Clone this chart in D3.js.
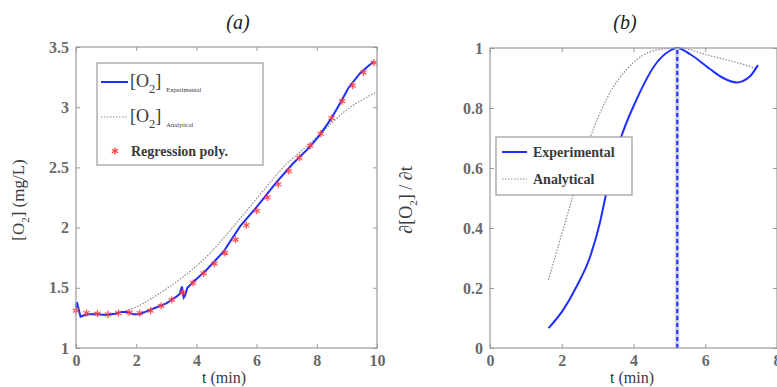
<!DOCTYPE html>
<html><head><meta charset="utf-8">
<script src="https://cdn.jsdelivr.net/npm/d3@7"></script>
<style>body{margin:0;background:#fff}svg{display:block}</style>
</head><body>
<script>
// ---------- Panel (a) data ----------
const expT_a = [0, 0.03, 0.08, 0.15, 0.25, 0.4, 0.7, 1.0, 1.3, 1.5, 1.7, 1.9, 2.1, 2.3, 2.6, 3.0, 3.3, 3.45, 3.52, 3.58, 3.63, 3.7, 3.9, 4.34, 4.9, 5.45, 6.0, 6.67, 7.2, 7.77, 8.1, 8.44, 8.77, 9.05, 9.43, 9.7, 9.9];
const expV_a = [1.33, 1.38, 1.33, 1.26, 1.27, 1.28, 1.28, 1.275, 1.285, 1.30, 1.30, 1.28, 1.28, 1.30, 1.33, 1.37, 1.42, 1.45, 1.51, 1.42, 1.44, 1.50, 1.55, 1.65, 1.80, 2.01, 2.17, 2.38, 2.53, 2.67, 2.77, 2.89, 3.03, 3.16, 3.28, 3.34, 3.38];
const anaT_a = [1.65, 2.0, 2.5, 3.0, 3.5, 4.0, 4.5, 5.0, 5.5, 6.0, 6.5, 7.0, 7.5, 8.0, 8.5, 9.0, 9.5, 9.93];
const anaV_a = [1.31, 1.34, 1.41, 1.49, 1.58, 1.68, 1.80, 1.94, 2.09, 2.24, 2.39, 2.53, 2.64, 2.75, 2.87, 2.98, 3.06, 3.12];
const regT_a = [0.00, 0.35, 0.71, 1.06, 1.41, 1.77, 2.12, 2.48, 2.83, 3.18, 3.54, 3.89, 4.24, 4.60, 4.95, 5.30, 5.66, 6.01, 6.36, 6.72, 7.07, 7.42, 7.78, 8.13, 8.49, 8.84, 9.19, 9.55, 9.90];
const regV_a = [1.31, 1.29, 1.285, 1.28, 1.29, 1.295, 1.29, 1.31, 1.35, 1.40, 1.46, 1.54, 1.62, 1.70, 1.79, 1.90, 2.02, 2.14, 2.25, 2.36, 2.47, 2.58, 2.68, 2.78, 2.91, 3.05, 3.18, 3.29, 3.37];
const xTicks_a = [0, 2, 4, 6, 8, 10];
const yTicks_a = [1, 1.5, 2, 2.5, 3, 3.5];

// ---------- Panel (b) data ----------
const expT_b = [1.63, 2.04, 2.41, 2.79, 3.06, 3.23, 3.62, 4.08, 4.64, 5.0, 5.22, 5.57, 6.13, 6.5, 6.87, 7.24, 7.47];
const expV_b = [0.066, 0.127, 0.204, 0.304, 0.416, 0.51, 0.69, 0.827, 0.95, 0.99, 1.0, 0.98, 0.93, 0.90, 0.885, 0.905, 0.943];
const anaT_b = [1.63, 2.0, 2.32, 2.79, 3.25, 3.9, 4.64, 5.29, 6.04, 6.78, 7.43];
const anaV_b = [0.227, 0.38, 0.51, 0.70, 0.83, 0.94, 0.993, 1.0, 0.977, 0.955, 0.932];
const peakT_b = 5.22;
const xTicks_b = [0, 2, 4, 6, 8];
const yTicks_b = [0, 0.2, 0.4, 0.6, 0.8, 1];

const W = 777, H = 387;
const SERIF = "Liberation Serif";
const svg = d3.select("body").append("svg").attr("width", W).attr("height", H).style("font-family", SERIF);

const blue = "#1f2fff", red = "#ff3b3b", grey = "#8a8a8a", axisC = "#9a9a9a", txtC = "#3a3a3a";

function frame(x, y, xt, yt, fmtY) {
  const g = svg.append("g");
  const [x0, x1] = x.range(), [y0, y1] = y.range();
  const fmtX = d => String(d);
  g.append("g").attr("class", "axb").attr("transform", `translate(0,${y0})`)
    .call(d3.axisBottom(x).tickValues(xt).tickSize(-4).tickPadding(7).tickFormat(fmtX));
  g.append("g").attr("class", "axl").attr("transform", `translate(${x0},0)`)
    .call(d3.axisLeft(y).tickValues(yt).tickSize(-4).tickPadding(7).tickFormat(fmtY));
  g.append("g").attr("transform", `translate(0,${y1})`).call(d3.axisTop(x).tickValues(xt).tickSize(-4).tickFormat(""));
  g.append("g").attr("transform", `translate(${x1},0)`).call(d3.axisRight(y).tickValues(yt).tickSize(-4).tickFormat(""));
  g.selectAll("g").attr("font-family", null).style("font-family", SERIF);
  g.selectAll(".domain").remove();
  g.selectAll(".tick line").attr("stroke", axisC);
  g.selectAll(".tick text").attr("fill", "#444").attr("font-size", 16)
    .style("font-family", SERIF).style("font-weight", "bold").attr("opacity", 0.8);
  g.append("rect").attr("x", x0).attr("y", y1).attr("width", x1 - x0).attr("height", y0 - y1)
    .attr("fill", "none").attr("stroke", axisC).attr("stroke-width", 1.2);
  return g;
}

// ================= Panel (a) =================
const xa = d3.scaleLinear().domain([0, 10]).range([76, 377]);
const ya = d3.scaleLinear().domain([1, 3.5]).range([348, 47]);
const ga = svg.append("g");
ga.append("path").datum(anaT_a.map((t, i) => [t, anaV_a[i]]))
  .attr("d", d3.line().x(d => xa(d[0])).y(d => ya(d[1])).curve(d3.curveMonotoneX))
  .attr("fill", "none").attr("stroke", grey).attr("stroke-width", 1.2).attr("stroke-dasharray", "1.5,1.5");
ga.append("path").datum(expT_a.map((t, i) => [t, expV_a[i]]))
  .attr("d", d3.line().x(d => xa(d[0])).y(d => ya(d[1]))).attr("fill", "none").attr("stroke", blue).attr("stroke-width", 2);
const star = d3.symbol().type(d3.symbolAsterisk).size(36);
ga.selectAll(".reg").data(regT_a.map((t, i) => [t, regV_a[i]])).join("path")
  .attr("transform", d => `translate(${xa(d[0])},${ya(d[1])})`).attr("d", star)
  .attr("stroke", red).attr("stroke-width", 1.3).attr("fill", "none").attr("opacity", 0.85);
frame(xa, ya, xTicks_a, yTicks_a, d => String(d));

// legend (a)
const la = svg.append("g");
la.append("rect").attr("x", 97).attr("y", 63).attr("width", 166).attr("height", 102).attr("fill", "#fff").attr("stroke", axisC).attr("stroke-width", 1.2);
la.append("line").attr("x1", 101).attr("x2", 128).attr("y1", 82).attr("y2", 82).attr("stroke", blue).attr("stroke-width", 2);
la.append("line").attr("x1", 101).attr("x2", 128).attr("y1", 117).attr("y2", 117).attr("stroke", grey).attr("stroke-width", 1.2).attr("stroke-dasharray", "1.5,1.5");
function o2(g, x, y, sub, size) {
  const t = g.append("text").attr("x", x).attr("y", y).attr("font-size", size).attr("fill", txtC);
  t.append("tspan").text("[O");
  t.append("tspan").attr("font-size", size * 0.7).attr("dy", size * 0.35).text("2");
  t.append("tspan").attr("dy", -size * 0.35).text("]");
  if (sub) t.append("tspan").attr("font-size", 6.5).attr("dx", 5).attr("dy", size * 0.25).text(sub);
  return t;
}
o2(la, 130, 87, "Experimental", 18);
o2(la, 130, 122, "Analytical", 18);
la.append("path").attr("transform", "translate(115,151)").attr("d", star).attr("stroke", red).attr("stroke-width", 1.3).attr("fill", "none");
la.append("text").attr("x", 131).attr("y", 156).attr("font-size", 14).attr("font-weight", "bold").attr("fill", txtC).text("Regression poly.");

// labels (a)
svg.append("text").attr("x", 238).attr("y", 29).attr("text-anchor", "middle").attr("font-size", 20).attr("font-style", "italic").attr("fill", "#222").text("(a)");
svg.append("text").attr("x", 224).attr("y", 383).attr("text-anchor", "middle").attr("font-size", 16).attr("fill", txtC).text("t (min)");
{
  const t = svg.append("text").attr("transform", "translate(24,200) rotate(-90)").attr("text-anchor", "middle").attr("font-size", 17).attr("fill", txtC);
  t.append("tspan").text("[O");
  t.append("tspan").attr("font-size", 11).attr("dy", 5).text("2");
  t.append("tspan").attr("dy", -5).text("] (mg/L)");
}

// ================= Panel (b) =================
const xb = d3.scaleLinear().domain([0, 8]).range([490, 777]);
const yb = d3.scaleLinear().domain([0, 1]).range([348, 48]);
const gbp = svg.append("g");
const lineB = d3.line().x(d => xb(d[0])).y(d => yb(d[1])).curve(d3.curveMonotoneX);
gbp.append("path").datum(anaT_b.map((t, i) => [t, anaV_b[i]]))
  .attr("d", lineB).attr("fill", "none").attr("stroke", grey).attr("stroke-width", 1.2).attr("stroke-dasharray", "1.5,1.5");
gbp.append("path").datum(expT_b.map((t, i) => [t, expV_b[i]]))
  .attr("d", lineB).attr("fill", "none").attr("stroke", blue).attr("stroke-width", 2);
gbp.append("line").attr("x1", xb(peakT_b)).attr("x2", xb(peakT_b)).attr("y1", yb(0)).attr("y2", yb(1))
  .attr("stroke", "#c8cce0").attr("stroke-width", 4);
gbp.append("line").attr("x1", xb(peakT_b)).attr("x2", xb(peakT_b)).attr("y1", yb(0)).attr("y2", yb(1))
  .attr("stroke", blue).attr("stroke-width", 2).attr("stroke-dasharray", "4,3");
frame(xb, yb, xTicks_b, yTicks_b, d => String(d));

// legend (b)
const lb = svg.append("g");
lb.append("rect").attr("x", 496).attr("y", 137).attr("width", 136).attr("height", 58).attr("fill", "#fff").attr("stroke", axisC).attr("stroke-width", 1.2);
lb.append("line").attr("x1", 502).attr("x2", 527).attr("y1", 152).attr("y2", 152).attr("stroke", blue).attr("stroke-width", 2);
lb.append("line").attr("x1", 502).attr("x2", 527).attr("y1", 179).attr("y2", 179).attr("stroke", grey).attr("stroke-width", 1.2).attr("stroke-dasharray", "1.5,1.5");
lb.append("text").attr("x", 533).attr("y", 157).attr("font-size", 14).attr("font-weight", "bold").attr("fill", txtC).text("Experimental");
lb.append("text").attr("x", 533).attr("y", 184).attr("font-size", 14).attr("font-weight", "bold").attr("fill", txtC).text("Analytical");

// labels (b)
svg.append("text").attr("x", 625).attr("y", 29).attr("text-anchor", "middle").attr("font-size", 20).attr("font-style", "italic").attr("fill", "#222").text("(b)");
svg.append("text").attr("x", 632).attr("y", 383).attr("text-anchor", "middle").attr("font-size", 16).attr("fill", txtC).text("t (min)");
{
  const t = svg.append("text").attr("transform", "translate(412,200) rotate(-90)").attr("text-anchor", "middle").attr("font-size", 18).attr("fill", txtC);
  t.append("tspan").text("∂[O");
  t.append("tspan").attr("font-size", 11).attr("dy", 5).text("2");
  t.append("tspan").attr("dy", -5).text("] / ∂t");
}
</script>
</body></html>
